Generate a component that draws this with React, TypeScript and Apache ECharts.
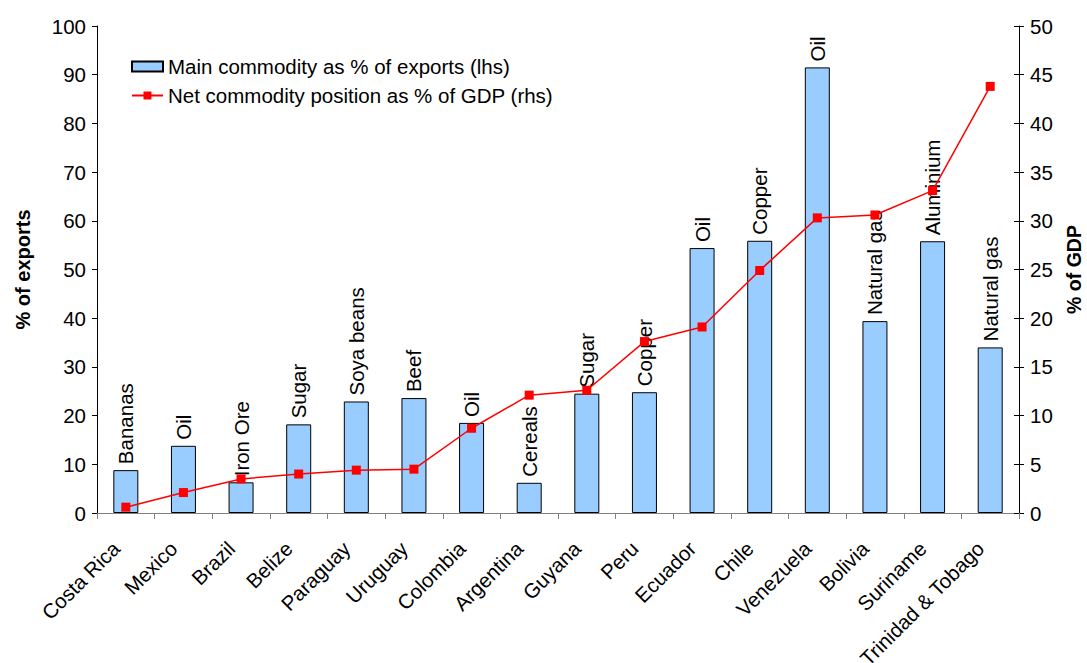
import React, { useEffect, useRef } from "react";
import * as echarts from "echarts";

const countries = ["Costa Rica", "Mexico", "Brazil", "Belize", "Paraguay", "Uruguay", "Colombia", "Argentina", "Guyana", "Peru", "Ecuador", "Chile", "Venezuela", "Bolivia", "Suriname", "Trinidad & Tobago"];
const commodities = ["Bananas", "Oil", "Iron Ore", "Sugar", "Soya beans", "Beef", "Oil", "Cereals", "Sugar", "Copper", "Oil", "Copper", "Oil", "Natural gas", "Aluminium", "Natural gas"];
const exportShare = [8.8, 13.8, 6.3, 18.2, 22.9, 23.6, 18.5, 6.2, 24.5, 24.8, 54.4, 55.9, 91.5, 39.4, 55.8, 34.0];
const netPosition = [0.6, 2.1, 3.5, 4.0, 4.4, 4.5, 8.7, 12.1, 12.6, 17.6, 19.1, 24.9, 30.3, 30.6, 33.1, 43.8];
const leftTicks = { min: 0, max: 100, interval: 10 };
const rightTicks = { min: 0, max: 50, interval: 5 };

const FONT = "'Liberation Sans', Arial, sans-serif";
const FS = 20.5;

export default function App() {
  const ref = useRef<HTMLDivElement>(null);
  useEffect(() => {
    document.body.style.margin = "0";
    const chart = echarts.init(ref.current!, null, { renderer: "svg" });
    chart.setOption({
      animation: false,
      textStyle: { fontFamily: FONT, color: "#000" },
      grid: { left: 97, right: 68, top: 26, bottom: 150, containLabel: false, outerBoundsMode: "none" },
      legend: {
        left: 126,
        top: 51,
        orient: "vertical",
        itemWidth: 31,
        itemHeight: 10,
        itemGap: 8,
        textStyle: { fontSize: FS, color: "#000", fontFamily: FONT },
        data: [
          { name: "Main commodity as % of exports (lhs)", icon: "rect" },
          { name: "Net commodity position as % of GDP (rhs)" },
        ],
      },
      xAxis: {
        type: "category",
        data: countries,
        boundaryGap: true,
        axisLine: { lineStyle: { color: "#808080", width: 1 } },
        axisTick: { show: true, alignWithLabel: false, length: 6, lineStyle: { color: "#808080" } },
        axisLabel: {
          rotate: 45,
          fontSize: FS,
          color: "#000",
          margin: 22,
          padding: [0, 14, 0, 0],
          interval: 0,
          hideOverlap: false,
          fontFamily: FONT,
        },
        splitLine: { show: false },
      },
      yAxis: [
        {
          type: "value",
          ...leftTicks,
          position: "left",
          name: "% of exports",
          nameLocation: "middle",
          nameGap: 64,
          nameRotate: 90,
          nameTextStyle: { fontSize: 20, fontWeight: "bold", color: "#000", fontFamily: FONT },
          axisLine: { show: true, lineStyle: { color: "#000" } },
          axisTick: { show: true, length: 5, lineStyle: { color: "#000" } },
          axisLabel: { fontSize: FS, color: "#000", margin: 11, fontFamily: FONT },
          splitLine: { show: false },
        },
        {
          type: "value",
          ...rightTicks,
          position: "right",
          name: "% of GDP",
          nameLocation: "middle",
          nameGap: 45,
          nameRotate: 90,
          nameTextStyle: { fontSize: 19.5, fontWeight: "bold", color: "#000", fontFamily: FONT },
          axisLine: { show: true, lineStyle: { color: "#000" } },
          axisTick: { show: true, length: 5, lineStyle: { color: "#000" } },
          axisLabel: { fontSize: FS, color: "#000", margin: 11, fontFamily: FONT },
          splitLine: { show: false },
        },
        {
          type: "value",
          ...rightTicks,
          position: "right",
          axisLine: { show: false },
          axisTick: { show: true, inside: true, length: 5, lineStyle: { color: "#000" } },
          axisLabel: { show: false },
          splitLine: { show: false },
        },
      ],
      series: [
        {
          name: "Main commodity as % of exports (lhs)",
          type: "bar",
          data: exportShare,
          yAxisIndex: 0,
          barWidth: 25,
          itemStyle: { color: "#99CCFF", borderColor: "#000", borderWidth: 1 },
          label: {
            show: true,
            position: "top",
            rotate: 90,
            align: "left",
            verticalAlign: "middle",
            distance: 6,
            fontSize: FS,
            color: "#000",
            fontFamily: FONT,
            formatter: (p: any) => commodities[p.dataIndex],
          },
          z: 2,
        },
        {
          name: "Net commodity position as % of GDP (rhs)",
          type: "line",
          data: netPosition,
          yAxisIndex: 1,
          symbol: "rect",
          symbolSize: 9,
          lineStyle: { color: "#FF0000", width: 1.5 },
          itemStyle: { color: "#FF0000" },
          z: 5,
        },
      ],
    });
    return () => chart.dispose();
  }, []);
  return <div ref={ref} style={{ width: 1087, height: 663 }} />;
}
